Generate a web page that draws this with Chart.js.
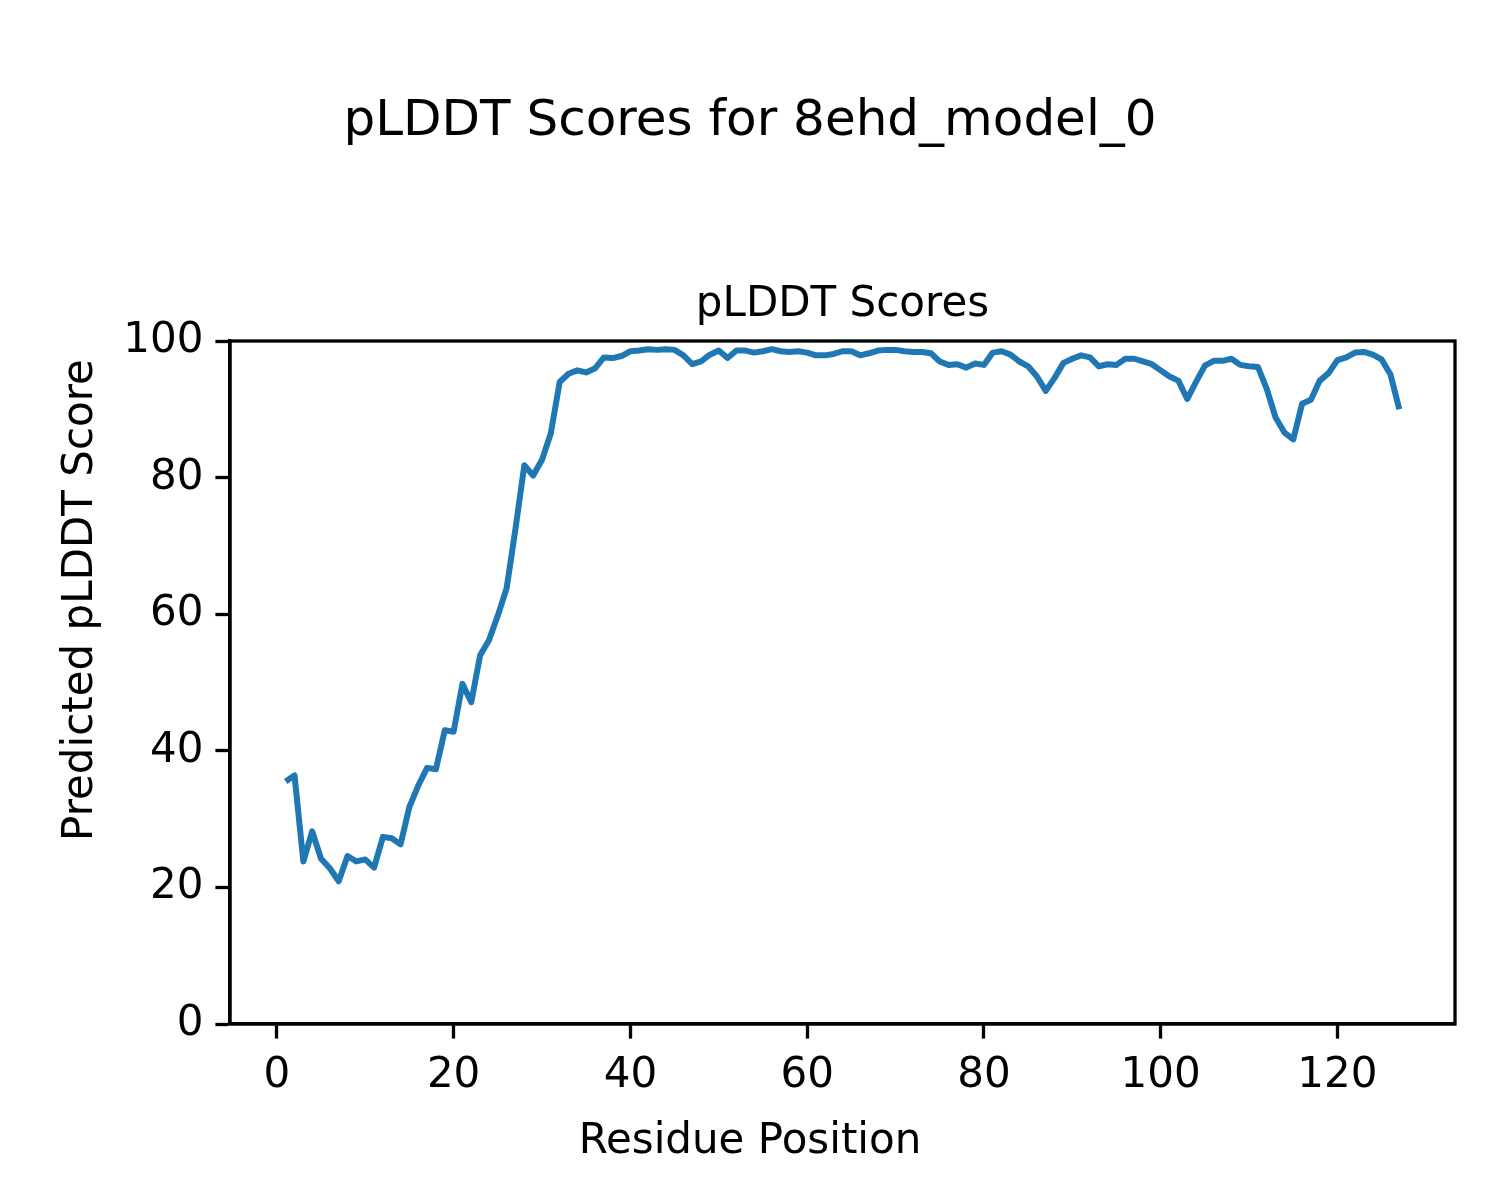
<!DOCTYPE html>
<html>
<head>
<meta charset="utf-8">
<title>pLDDT Scores</title>
<script src="https://cdn.jsdelivr.net/npm/chart.js@4.4.1/dist/chart.umd.min.js"></script>
<style>
  html, body { margin: 0; padding: 0; background: #fff; }
  canvas { display: block; }
</style>
</head>
<body>
<canvas id="myChart" width="1500" height="1200"></canvas>
<script>
//Data:
const suptitleText = "pLDDT Scores for 8ehd_model_0";
const axesTitleText = "pLDDT Scores";
const xLabel = "Residue Position";
const yLabel = "Predicted pLDDT Score";

const xTicks = [0, 20, 40, 60, 80, 100, 120];
const yTicks = [0, 20, 40, 60, 80, 100];

const scores = [
    35.5, 36.4, 23.8, 28.2, 24.2, 22.8, 20.9, 24.6, 23.8, 24.1,
    22.9, 27.4, 27.2, 26.3, 31.8, 34.9, 37.5, 37.3, 43.0, 42.8,
    49.8, 47.1, 54.0, 56.2, 59.8, 63.8, 72.5, 81.8, 80.3, 82.6,
    86.5, 94.0, 95.2, 95.7, 95.4, 96.0, 97.6, 97.5, 97.8, 98.5,
    98.6, 98.8, 98.7, 98.8, 98.7, 97.9, 96.6, 97.0, 98.0, 98.6,
    97.5, 98.6, 98.6, 98.3, 98.5, 98.8, 98.5, 98.4, 98.5, 98.3,
    97.9, 97.9, 98.1, 98.5, 98.5, 97.9, 98.2, 98.6, 98.7, 98.7,
    98.5, 98.4, 98.4, 98.2, 97.0, 96.5, 96.6, 96.1, 96.7, 96.5,
    98.3, 98.5, 98.0, 97.0, 96.3, 94.8, 92.7, 94.6, 96.8, 97.4,
    97.9, 97.6, 96.3, 96.6, 96.5, 97.4, 97.4, 97.0, 96.6, 95.7,
    94.8, 94.2, 91.5, 94.0, 96.4, 97.1, 97.1, 97.4, 96.5, 96.3,
    96.2, 93.0, 88.8, 86.6, 85.6, 90.8, 91.4, 94.2, 95.3, 97.2,
    97.6, 98.3, 98.4, 98.0, 97.3, 95.1, 90.0
];

//Residue positions start at 1:
const points = scores.map((s, i) => ({ x: i + 1, y: s }));

const FONT = "'DejaVu Sans', 'Liberation Sans', sans-serif";
const AREA = { left: 230, right: 1455, top: 341, bottom: 1024 };
const SIDE = 1500 - AREA.right;

//Frame, axes title and figure-level axis labels:
const extras = {
    id: "extras",
    afterDraw(chart) {
        const { ctx, chartArea } = chart;
        ctx.save();
        ctx.strokeStyle = "#000";
        ctx.lineWidth = 3.3;
        ctx.strokeRect(chartArea.left, chartArea.top, chartArea.right - chartArea.left, chartArea.bottom - chartArea.top);

        ctx.fillStyle = "#000";
        ctx.textAlign = "center";
        ctx.textBaseline = "alphabetic";
        ctx.font = "42px " + FONT;
        ctx.fillText(axesTitleText, (chartArea.left + chartArea.right) / 2, 316);

        //x label is centred on the figure, not on the axes
        ctx.fillText(xLabel, chart.width / 2, 1153);

        ctx.translate(92, 600);
        ctx.rotate(-Math.PI / 2);
        ctx.fillText(yLabel, 0, 0);
        ctx.restore();
    }
};

const ctx = document.getElementById("myChart").getContext("2d");

const chart = new Chart(ctx, {
    type: "line",
    data: {
        datasets: [{
            data: points,
            borderColor: "#1f77b4",
            borderWidth: 6,
            pointRadius: 0,
            tension: 0,
            fill: false,
            borderJoinStyle: "round",
            borderCapStyle: "butt"
        }]
    },
    options: {
        responsive: false,
        animation: false,
        layout: { padding: { top: 0, right: SIDE, bottom: 0, left: SIDE } },
        plugins: {
            legend: { display: false },
            tooltip: { enabled: false },
            title: {
                display: true,
                text: suptitleText,
                color: "#000",
                font: { family: FONT, size: 50, weight: "normal", lineHeight: 1.2 },
                padding: { top: 92, bottom: AREA.top - 92 - 60 }
            }
        },
        scales: {
            x: {
                type: "linear",
                min: -5.3,
                max: 133.3,
                afterBuildTicks: axis => { axis.ticks = xTicks.map(v => ({ value: v })); },
                afterFit: axis => { axis.height = 1200 - AREA.bottom; },
                ticks: {
                    color: "#000",
                    font: { family: FONT, size: 42 },
                    padding: 12,
                    maxRotation: 0,
                    autoSkip: false
                },
                grid: {
                    display: true,
                    drawOnChartArea: false,
                    drawTicks: true,
                    tickLength: 14.6,
                    tickWidth: 3.3,
                    tickColor: "#000"
                },
                border: { display: true, color: "#000", width: 3.3 }
            },
            y: {
                min: 0,
                max: 100,
                afterBuildTicks: axis => { axis.ticks = yTicks.map(v => ({ value: v })); },
                afterFit: axis => { axis.width = AREA.left - SIDE; },
                ticks: {
                    color: "#000",
                    font: { family: FONT, size: 42 },
                    padding: 12
                },
                grid: {
                    display: true,
                    drawOnChartArea: false,
                    drawTicks: true,
                    tickLength: 14.6,
                    tickWidth: 3.3,
                    tickColor: "#000"
                },
                border: { display: true, color: "#000", width: 3.3 }
            }
        }
    },
    plugins: [extras]
});
</script>
</body>
</html>
